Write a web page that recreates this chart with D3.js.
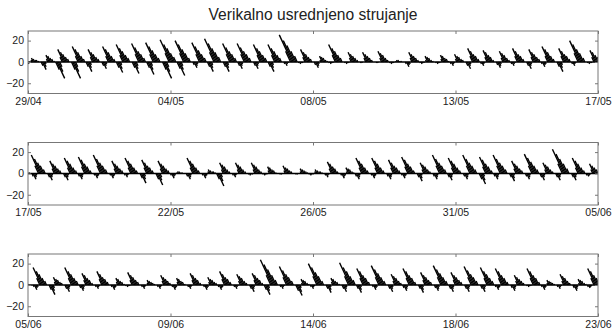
<!DOCTYPE html>
<html>
<head>
<meta charset="utf-8">
<script src="https://cdn.jsdelivr.net/npm/d3@7"></script>
<style type="text/css">
  body{
    background: white;
    margin: 0px;
  }
  text{
    font-family: 'Liberation Sans', Arial, Helvetica, sans-serif;
  }
  .title{
    font-size: 15.6px;
    fill: #222;
  }
  .tick text{
    font-size: 10.5px;
    fill: #222;
  }
  .tick line{
    stroke: #777;
  }
  .stick{
    stroke: #000;
    stroke-width: 1.4px;
  }
</style>
</head>
<body>

<script>

var chartTitle = "Verikalno usrednjeno strujanje";

// 18 days per panel, one stick per hour
var spanHours = 18 * 24;

var xTickLabels1 = ["29/04", "04/05", "08/05", "13/05", "17/05"];
var xTickLabels2 = ["17/05", "22/05", "26/05", "31/05", "05/06"];
var xTickLabels3 = ["05/06", "09/06", "14/06", "18/06", "23/06"];
var yTickValues = [-20, 0, 20];

// heading of the flood (positive speed) and ebb (negative speed), degrees
var floodDir = 335;
var ebbDir = 155;

// hourly depth averaged speed (cm/s), signed: + flood, - ebb
var speed1 = [
  -2,-1,0,2,4,3,2,2,1,0,
  -4,-8,-5,-2,0,3,7,6,4,3,1,
  -8,-17,-10,-5,0,5,13,10,8,5,3,0,
  -8,-17,-10,-5,0,6,16,13,10,6,3,
  -5,-10,-6,-3,0,5,13,10,8,5,3,0,
  -4,-7,-4,-2,0,6,16,13,10,6,3,
  -6,-11,-7,-3,0,7,18,14,11,7,4,0,
  -6,-12,-7,-4,0,8,19,15,11,8,4,
  -6,-13,-8,-4,0,8,20,16,12,8,4,0,
  -8,-17,-10,-5,0,9,23,18,14,9,5,
  -7,-14,-8,-4,0,9,22,18,13,9,4,0,
  -3,-6,-4,-2,0,8,20,16,12,8,4,
  -5,-10,-6,-3,0,10,24,19,14,10,5,0,
  -5,-10,-6,-3,0,8,19,15,11,8,4,
  -4,-7,-4,-2,0,8,19,15,11,8,4,0,
  -4,-7,-4,-2,0,7,18,14,11,7,4,
  -5,-10,-6,-3,0,7,18,14,11,7,4,0,
  -2,-4,-2,-1,0,11,28,22,17,11,6,
  -1,-2,-1,-1,0,5,13,10,8,5,3,0,
  -3,-6,-4,-2,0,2,6,5,4,2,1,
  -1,-2,-1,-1,0,7,18,14,11,7,4,0,
  -1,-2,-1,-1,0,4,10,8,6,4,2,
  0,-1,-1,0,0,4,10,8,6,4,2,0,
  0,-1,-1,0,0,4,11,9,7,4,2,
  -1,-2,-1,-1,0,1,2,2,1,1,0,0,
  -2,-5,-3,-2,0,4,10,8,6,4,2,
  -1,-2,-1,-1,0,2,6,5,4,2,1,0,
  -1,-2,-1,-1,0,3,7,6,4,3,1,
  -2,-4,-2,-1,0,3,8,6,5,3,2,0,
  -4,-7,-4,-2,0,6,14,11,8,6,3,
  -2,-4,-2,-1,0,5,12,10,7,5,2,0,
  -3,-6,-4,-2,0,4,11,9,7,4,2,
  -2,-4,-2,-1,0,6,14,11,8,6,3,0,
  -4,-7,-4,-2,0,5,13,10,8,5,3,
  -2,-5,-3,-2,0,6,16,13,10,6,3,0,
  -5,-10,-6,-3,0,6,14,11,8,6,3,
  -2,-4,-2,-1,0,9,22,18,13,9,4,0,
  -1,-2,-1,-1,0,5,12,10,7,5,2,0,0
];

var speed2 = [
  0,1,0,
  -3,-6,-4,-2,0,8,19,15,11,8,4,0,
  -4,-7,-4,-2,0,5,13,10,8,5,3,0,
  -4,-7,-4,-2,0,6,16,13,10,6,3,
  -3,-6,-4,-2,0,7,17,14,10,7,3,0,
  -2,-5,-3,-2,0,8,19,15,11,8,4,0,
  -2,-5,-3,-2,0,5,13,10,8,5,3,
  -2,-4,-2,-1,0,6,16,13,10,6,3,0,
  -5,-10,-6,-3,0,6,14,11,8,6,3,0,
  -6,-12,-7,-4,0,5,13,10,8,5,3,
  -2,-5,-3,-2,0,1,2,2,1,1,0,0,
  -3,-6,-4,-2,0,6,16,13,10,6,3,0,
  -2,-5,-3,-2,0,2,4,3,2,2,1,
  -6,-13,-8,-4,0,4,11,9,7,4,2,0,
  -2,-4,-2,-1,0,4,11,9,7,4,2,0,
  -1,-2,-1,-1,0,4,11,9,7,4,2,
  -1,-2,-1,-1,0,3,7,6,4,3,1,0,
  0,-1,-1,0,0,3,8,6,5,3,2,0,
  0,-1,-1,0,0,2,5,4,3,2,1,
  -1,-2,-1,-1,0,2,4,3,2,2,1,0,
  -2,-4,-2,-1,0,5,12,10,7,5,2,0,
  -2,-5,-3,-2,0,2,6,5,4,2,1,
  -3,-6,-4,-2,0,6,16,13,10,6,3,0,
  -2,-5,-3,-2,0,6,16,13,10,6,3,0,
  -3,-6,-4,-2,0,6,14,11,8,6,3,
  -2,-5,-3,-2,0,7,17,14,10,7,3,0,
  -4,-8,-5,-2,0,4,11,9,7,4,2,0,
  -3,-6,-4,-2,0,8,19,15,11,8,4,
  -4,-7,-4,-2,0,6,16,13,10,6,3,0,
  -3,-6,-4,-2,0,8,19,15,11,8,4,0,
  -6,-11,-7,-3,0,7,17,14,10,7,3,
  -3,-6,-4,-2,0,8,19,15,11,8,4,0,
  -4,-8,-5,-2,0,5,13,10,8,5,3,0,
  -3,-6,-4,-2,0,8,20,16,12,8,4,
  -4,-7,-4,-2,0,4,11,9,7,4,2,0,
  -4,-7,-4,-2,0,10,25,20,15,10,5,0,
  -4,-7,-4,-2,0,6,16,13,10,6,3,
  -2,-3,-2,-1,0,4,10,8,6,4,2,0,0
];

var speed3 = [
  1,0,0,0,
  -2,-5,-3,-2,0,7,18,14,11,7,4,0,
  -5,-10,-6,-3,0,3,8,6,5,3,2,0,
  -4,-7,-4,-2,0,7,18,14,11,7,4,
  -3,-6,-4,-2,0,5,12,10,7,5,2,0,
  -2,-4,-2,-1,0,6,14,11,8,6,3,0,
  -2,-5,-3,-2,0,3,7,6,4,3,1,
  -1,-2,-1,-1,0,5,13,10,8,5,3,0,
  -2,-4,-2,-1,0,2,5,4,3,2,1,0,
  -2,-4,-2,-1,0,4,10,8,6,4,2,
  -2,-5,-3,-2,0,3,7,6,4,3,1,0,
  -2,-4,-2,-1,0,5,12,10,7,5,2,0,
  -2,-5,-3,-2,0,3,8,6,5,3,2,
  -2,-5,-3,-2,0,6,14,11,8,6,3,0,
  -2,-4,-2,-1,0,4,11,9,7,4,2,0,
  -4,-7,-4,-2,0,5,12,10,7,5,2,
  -5,-10,-6,-3,0,10,26,21,16,10,5,0,
  -2,-4,-2,-1,0,8,19,15,11,8,4,0,
  -6,-11,-7,-3,0,2,6,5,4,2,1,
  -2,-4,-2,-1,0,9,22,18,13,9,4,0,
  -4,-8,-5,-2,0,3,7,6,4,3,1,0,
  -4,-7,-4,-2,0,9,23,18,14,9,5,
  -4,-8,-5,-2,0,7,17,14,10,7,3,0,
  -2,-5,-3,-2,0,8,20,16,12,8,4,0,
  -4,-7,-4,-2,0,4,11,9,7,4,2,
  -3,-6,-4,-2,0,7,17,14,10,7,3,0,
  -4,-8,-5,-2,0,5,13,10,8,5,3,0,
  -3,-6,-4,-2,0,8,20,16,12,8,4,
  -4,-7,-4,-2,0,5,13,10,8,5,3,0,
  -4,-7,-4,-2,0,8,19,15,11,8,4,0,
  -4,-7,-4,-2,0,7,18,14,11,7,4,
  -2,-5,-3,-2,0,7,17,14,10,7,3,0,
  -3,-6,-4,-2,0,4,10,8,6,4,2,0,
  -1,-2,-1,-1,0,7,17,14,10,7,3,
  -2,-5,-3,-2,0,2,5,4,3,2,1,0,
  -2,-4,-2,-1,0,4,11,9,7,4,2,0,
  -3,-6,-4,-2,0,2,6,5,4,2,1,
  -2,-3,-2,-1,0,7,17,14,10,7,3,0,0
];

var panels = [
  {speed: speed1, labels: xTickLabels1, top: 31},
  {speed: speed2, labels: xTickLabels2, top: 142.5},
  {speed: speed3, labels: xTickLabels3, top: 254}
];

var width = 612,
    height = 332,
    left = 28,
    right = 598,
    panelHeight = 62.5;

var svg = d3.select("body").append("svg")
    .attr("width", width)
    .attr("height", height);

svg.append("text")
    .attr("class", "title")
    .attr("x", (left + right) / 2)
    .attr("y", 20)
    .attr("text-anchor", "middle")
    .text(chartTitle);

var x = d3.scaleLinear().domain([0, spanHours]).range([left, right]);
var y = d3.scaleLinear().domain([-29.6, 29]).range([panelHeight, 0]);

// sticks use the same pixels per cm/s in both directions
var pxPerUnit = y(0) - y(1);

var xTickValues = d3.range(0, spanHours + 1, spanHours / 4);

function comp(s) {
  var a = (s >= 0 ? floodDir : ebbDir) * Math.PI / 180;
  var m = Math.abs(s);
  return {u: m * Math.sin(a), v: m * Math.cos(a)};
}

panels.forEach(function(p, n) {

  var g = svg.append("g")
      .attr("transform", "translate(0," + p.top + ")");

  g.append("clipPath")
      .attr("id", "clip" + n)
    .append("rect")
      .attr("x", left)
      .attr("y", 0)
      .attr("width", right - left)
      .attr("height", panelHeight);

  var plot = g.append("g").attr("clip-path", "url(#clip" + n + ")");

  plot.append("line")
      .attr("x1", left).attr("x2", right)
      .attr("y1", y(0)).attr("y2", y(0))
      .attr("stroke", "#000")
      .attr("stroke-width", 1.6);

  plot.selectAll(".stick")
      .data(p.speed)
      .join("line")
      .attr("class", "stick")
      .attr("x1", function(d, i) { return x(i); })
      .attr("y1", y(0))
      .attr("x2", function(d, i) { return x(i) + comp(d).u * pxPerUnit; })
      .attr("y2", function(d) { return y(comp(d).v); });

  g.append("g")
      .attr("transform", "translate(" + left + ",0)")
      .call(d3.axisLeft(y).tickValues(yTickValues).tickSize(-3).tickPadding(4))
      .call(function(a) { a.select(".domain").remove(); });

  g.append("g")
      .attr("transform", "translate(" + right + ",0)")
      .call(d3.axisRight(y).tickValues(yTickValues).tickSize(-3).tickFormat(""))
      .call(function(a) { a.select(".domain").remove(); });

  g.append("g")
      .attr("transform", "translate(0," + panelHeight + ")")
      .call(d3.axisBottom(x).tickValues(xTickValues).tickSize(-3).tickPadding(4)
        .tickFormat(function(d, i) { return p.labels[i]; }))
      .call(function(a) { a.select(".domain").remove(); });

  g.append("g")
      .call(d3.axisTop(x).tickValues(xTickValues).tickSize(-3).tickFormat(""))
      .call(function(a) { a.select(".domain").remove(); });

  g.append("rect")
      .attr("x", left)
      .attr("y", 0)
      .attr("width", right - left)
      .attr("height", panelHeight)
      .attr("fill", "none")
      .attr("stroke", "#777")
      .attr("stroke-width", 1);
});

</script>

</body>
</html>
